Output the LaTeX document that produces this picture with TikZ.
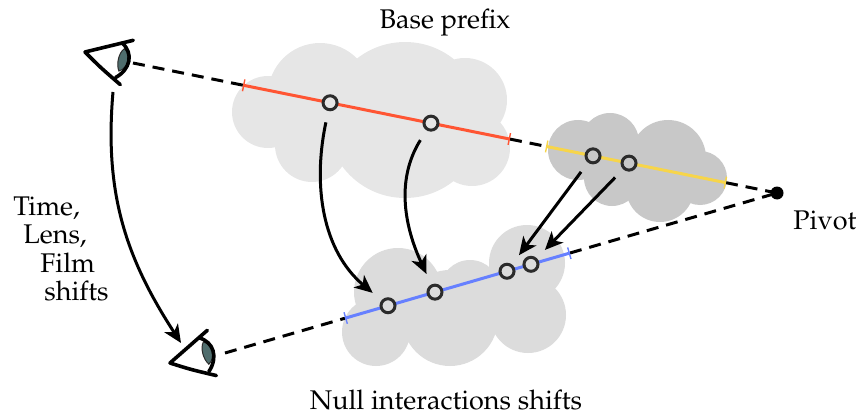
\documentclass[tikz,border=0pt]{standalone}
\usepackage[T1]{fontenc}
\usepackage{mathpazo}
\usetikzlibrary{calc,arrows.meta}

\definecolor{cloudA}{HTML}{E6E6E6}
\definecolor{cloudB}{HTML}{C8C8C8}
\definecolor{cloudC}{HTML}{DCDCDC}
\definecolor{segOrange}{HTML}{FF5533}
\definecolor{segYellow}{HTML}{F7D54A}
\definecolor{segBlue}{HTML}{6680FF}
\definecolor{ringgray}{HTML}{2B2B2B}
\definecolor{irisgray}{HTML}{4F6D6D}

\begin{document}
\begin{tikzpicture}[x=0.5pt,y=-0.5pt,
  sightline/.style={line width=1.5pt, dash pattern=on 6pt off 4pt},
  segment/.style={line width=1.5pt, {Bar[width=6pt,line width=0.7pt]}-{Bar[width=6pt,line width=0.7pt]}},
  sample/.style={circle, draw=ringgray, line width=1.5pt, minimum size=7pt, inner sep=0pt},
  mapsto/.style={line width=1.5pt, -{Stealth[length=9pt,width=8pt,inset=2.5pt]},
                 shorten <=5.75pt, shorten >=5.75pt},
  words/.style={font=\fontsize{13.5}{16}\selectfont, inner sep=0pt},
  eyeline/.style={line width=1.8pt, line cap=round, line join=round},
  eyeglyph/.pic={
    % iris
    \filldraw[fill=irisgray, draw=ringgray, line width=0.5pt]
      (38,-11) .. controls (46,-6) and (46,7) .. (37,12)
               .. controls (33,6) and (33,-6) .. cycle;
    % lids
    \draw[eyeline] (45,-21) -- (0,0) .. controls (18,12) .. (41,25);
    % cornea
    \draw[eyeline] (35,-16) .. controls (48,-8) and (48,8) .. (35,19);
  }
]
\useasboundingbox (0,0) rectangle (856,417);

% clouds
\fill[cloudA] (268,112) circle[radius=36] (320,95) circle[radius=52]
  (405,120) circle[radius=78] (465,100) circle[radius=42]
  (472,148) circle[radius=38] (312,145) circle[radius=37];
\fill[cloudB] (578,150) circle[radius=30] (610,142) circle[radius=29]
  (668,158) circle[radius=38] (700,178) circle[radius=27]
  (660,188) circle[radius=34] (612,178) circle[radius=28];
\fill[cloudC] (398,292) circle[radius=44] (376,332) circle[radius=34]
  (450,318) circle[radius=48] (527,263) circle[radius=38]
  (528,315) circle[radius=38] (470,290) circle[radius=30];

% viewpoints and pivot
\coordinate (eyeA) at (133,63);
\coordinate (eyeB) at (225,353);
\node[circle, fill=black, minimum size=6.5pt, inner sep=0pt] (pivot) at (777,193) {};

% ends of the prefix segments
\coordinate (orangeS) at ($(eyeA)!0.1708!(pivot)$);
\coordinate (orangeE) at ($(eyeA)!0.5854!(pivot)$);
\coordinate (yellowS) at ($(eyeA)!0.6413!(pivot)$);
\coordinate (yellowE) at ($(eyeA)!0.9208!(pivot)$);
\coordinate (blueS)   at ($(eyeB)!0.2174!(pivot)$);
\coordinate (blueE)   at ($(eyeB)!0.625!(pivot)$);

% lines of sight
\draw[sightline] (eyeA) -- (orangeS);
\draw[sightline] (orangeE) -- (yellowS);
\draw[sightline] (yellowE) -- (pivot.center);
\draw[sightline] (eyeB) -- (blueS);
\draw[sightline] (blueE) -- (pivot.center);

% prefix segments
\draw[segment, segOrange] (orangeS) -- (orangeE);
\draw[segment, segYellow] (yellowS) -- (yellowE);
\draw[segment, segBlue]   (blueS) -- (blueE);

% samples
\node[sample, fill=cloudA] (p1) at ($(eyeA)!0.306!(pivot)$) {};
\node[sample, fill=cloudA] (p2) at ($(eyeA)!0.4627!(pivot)$) {};
\node[sample, fill=cloudB] (p3) at ($(eyeA)!0.7143!(pivot)$) {};
\node[sample, fill=cloudB] (p4) at ($(eyeA)!0.7702!(pivot)$) {};
\node[sample, fill=cloudC] (q1) at ($(eyeB)!0.2953!(pivot)$) {};
\node[sample, fill=cloudC] (q2) at ($(eyeB)!0.3804!(pivot)$) {};
\node[sample, fill=cloudC] (q3) at ($(eyeB)!0.5109!(pivot)$) {};
\node[sample, fill=cloudC] (q4) at ($(eyeB)!0.5543!(pivot)$) {};

% mappings
\draw[mapsto] (p1) to[out=258, in=140] (q1);
\draw[mapsto] (p2) to[out=238, in=115] (q2);
\draw[mapsto] (p3) -- (q3);
\draw[mapsto] (p4) -- (q4);

% eyes
\pic[rotate=-11.4] at (85,52) {eyeglyph};
\pic[rotate=16.2] at (170,363) {eyeglyph};
\coordinate (eyeAfoot) at (113,92);
\coordinate (eyeBbrow) at (181,343);
\draw[mapsto, shorten <=0pt, shorten >=0pt] (eyeAfoot) to[out=265, in=123] (eyeBbrow);

% captions
\node[words, anchor=base] (basecap) at (445,29) {Base prefix};
\node[words, anchor=base west] (pivotcap) at (793,229) {Pivot};
\node[words, anchor=base] (nullcap) at (446,409) {Null interactions shifts};
\node[words, anchor=base west] (shift1) at (13,215) {Time,};
\node[words, anchor=base west] (shift2) at (23,243) {Lens,};
\node[words, anchor=base west] (shift3) at (40,272) {Film};
\node[words, anchor=base west] (shift4) at (44,300) {shifts};
\end{tikzpicture}
\end{document}
